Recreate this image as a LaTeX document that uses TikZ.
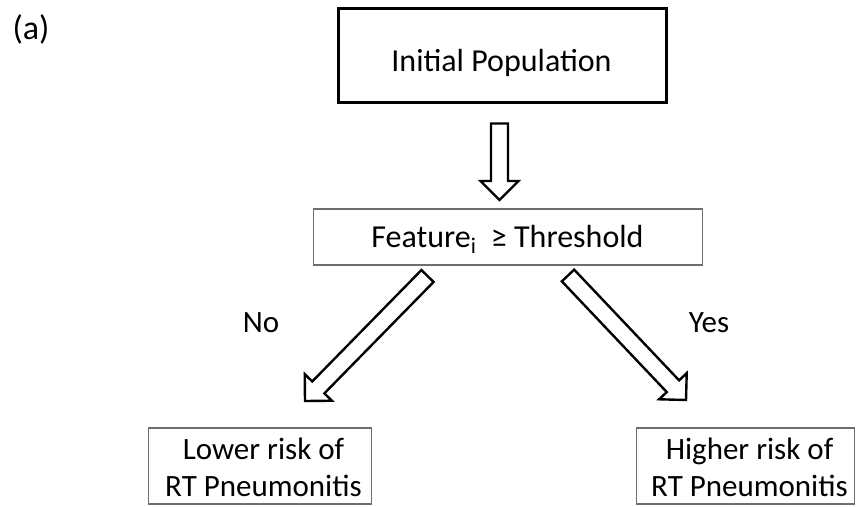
\documentclass[tikz,border=0pt]{standalone}
\usepackage{fontspec}
\setmainfont{Carlito}
\usetikzlibrary{calc}
\definecolor{boxgray}{HTML}{6E6E6E}
\tikzset{
  topbox/.style={draw=black, line width=2.8pt, minimum width=328pt, minimum height=94pt, inner sep=0pt},
  graybox/.style={draw=boxgray, line width=1.4pt, inner sep=0pt, align=center},
  blk/.style={draw=black, line width=2.4pt, fill=white, line join=miter},
  txt/.style={inner sep=0pt},
}
\newcommand\blkarrow[2]{%
  \coordinate (tmpB) at ($(#2)!19pt!(#1)$);
  \draw[blk] ($(#1)!8.5pt!90:(#2)$) -- ($(tmpB)!8.5pt!90:(#2)$) -- ($(tmpB)!19pt!90:(#2)$)
    -- (#2) -- ($(tmpB)!19pt!-90:(#2)$) -- ($(tmpB)!8.5pt!-90:(#2)$) -- ($(#1)!8.5pt!-90:(#2)$) -- cycle;}
\begin{document}
\begin{tikzpicture}[x=1pt,y=-1pt]
\useasboundingbox (0,0) rectangle (856,506);
% label
\node[txt, font=\fontsize{34}{40}\selectfont] (lab) at (31,29) {(a)};
% boxes
\node[topbox] (init) at (502.5,55.5) {};
\node[txt, anchor=base, font=\fontsize{32}{38}\selectfont] (inittxt) at (501.5,71) {Initial Population};
\node[graybox, minimum width=389pt, minimum height=56pt] (feat) at (508,237) {};
\node[txt, anchor=base, font=\fontsize{32}{38}\selectfont] (feattxt) at (507.5,247) {Feature\textsubscript{i}\ \ ≥ Threshold};
\node[graybox, minimum width=223pt, minimum height=76pt] (low) at (260,466) {};
\node[txt, anchor=base, align=center, font=\fontsize{31}{37}\selectfont] (lowtxt) at (263.5,496) {Lower risk of\\RT Pneumonitis};
\node[graybox, minimum width=218pt, minimum height=76pt] (high) at (745.5,466) {};
\node[txt, anchor=base, align=center, font=\fontsize{31}{37}\selectfont] (hightxt) at (749.5,496) {Higher risk of\\RT Pneumonitis};
% arrow end points
\coordinate (d1) at (499.5,123.5);
\coordinate (d2) at (499.5,200);
\coordinate (l1) at (427.5,276);
\coordinate (l2) at (305,401);
\coordinate (r1) at (568,275.5);
\coordinate (r2) at (686,400);
\blkarrow{d1}{d2}
\blkarrow{l1}{l2}
\blkarrow{r1}{r2}
% branch labels
\node[txt, font=\fontsize{31}{36}\selectfont] (no) at (261,323) {No};
\node[txt, font=\fontsize{31}{36}\selectfont] (yes) at (709,323) {Yes};
\end{tikzpicture}
\end{document}
